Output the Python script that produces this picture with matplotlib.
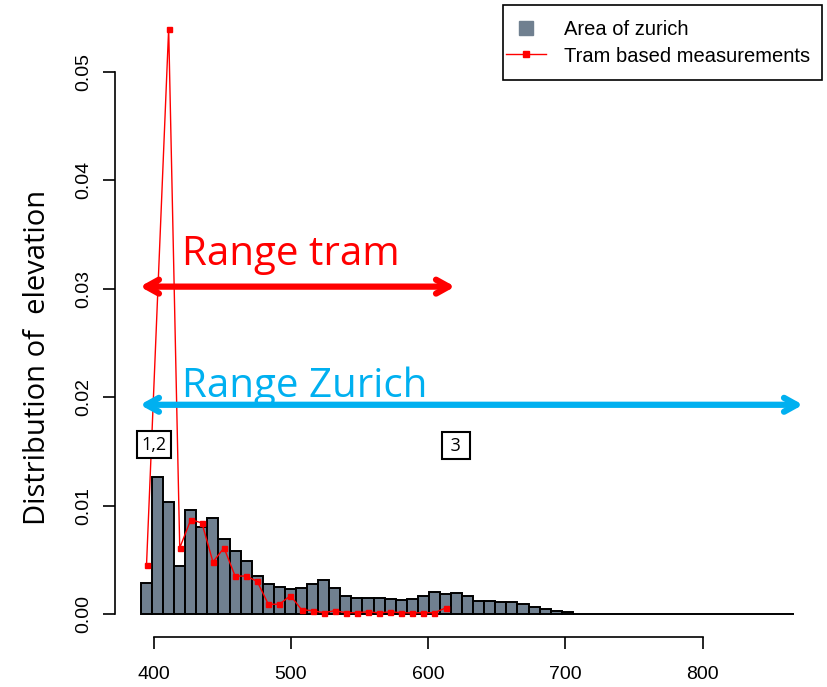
import numpy as np
import matplotlib
matplotlib.use("Agg")
import matplotlib.pyplot as plt
from matplotlib.lines import Line2D
from matplotlib.patches import Rectangle

# histogram of elevation over the whole area (density per bin)
bin_start = 390.8
bin_width = 8.07
area_density = [
    0.0029, 0.0126, 0.0103, 0.0044, 0.0096, 0.0080, 0.0089, 0.0069, 0.0058, 0.0049,
    0.0035, 0.0028, 0.0025, 0.0023, 0.0024, 0.0028, 0.0031, 0.0024, 0.0017, 0.0015,
    0.00145, 0.0015, 0.0014, 0.0013, 0.0014, 0.0017, 0.0020, 0.0018, 0.0019, 0.0017,
    0.0012, 0.0012, 0.0011, 0.00115, 0.0009, 0.0006, 0.0005, 0.0003, 0.0002, 0.00004,
    0.00004, 0.00004, 0.00004, 0.00004, 0.00004, 0.00004, 0.00004, 0.00004, 0.00004, 0.0,
    0.0, 0.0, 0.0, 0.0, 0.0, 0.0, 0.0, 0.0, 0.0,
]

# tram measurements (bin index -> density), bin 2 has no value
tram_bins = [0, 2, 3, 4, 5, 6, 7, 8, 9, 10, 11, 12, 13, 14, 15, 16, 17, 18, 19, 20,
             21, 22, 23, 24, 25, 26, 27]
tram_density = [0.0045, 0.0540, 0.0061, 0.0087, 0.0084, 0.0048, 0.0061, 0.0035, 0.0035,
                0.0030, 0.0009, 0.0009, 0.0017, 0.0004, 0.0003, 0.00012, 0.0003, 0.00012,
                0.00012, 0.0002, 0.0001, 0.0002, 0.00012, 0.0001, 0.00012, 0.00012, 0.00055]

x_ticks = [400, 500, 600, 700, 800]
y_ticks = [0.00, 0.01, 0.02, 0.03, 0.04, 0.05]

W, H = 827, 687
fig = plt.figure(figsize=(W / 100, H / 100), dpi=100)
L, R, B, T = 135, 800, 618, 20
ax = fig.add_axes([L / W, 1 - B / H, (R - L) / W, (B - T) / H])

px_per_x = (702.5 - 153.6) / 400
ax.set_xlim(400 + (L - 153.6) / px_per_x, 400 + (R - 153.6) / px_per_x)
ax.set_ylim(-(B - 614) / 10840, (614 - T) / 10840)

edges = bin_start + bin_width * np.arange(len(area_density))
ax.bar(edges, area_density, width=bin_width, align='edge', color='#708090',
       edgecolor='black', linewidth=1.4, zorder=2)

mids = edges + bin_width / 2
ax.plot(mids[tram_bins], tram_density, color='red', lw=1, marker='s', markersize=3.6,
        zorder=3, clip_on=False)

# R-like axes
for s in ['top', 'right']:
    ax.spines[s].set_visible(False)
ax.spines['left'].set_position(('outward', 14.4))
ax.spines['bottom'].set_position(('outward', 13.7))
ax.spines['left'].set_bounds(0, 0.05)
ax.spines['bottom'].set_bounds(400, 800)
for s in ['left', 'bottom']:
    ax.spines[s].set_linewidth(1.2)
ax.set_xticks(x_ticks)
ax.set_yticks(y_ticks)
ax.set_yticklabels([f"{v:.2f}" for v in y_ticks], rotation=90, va='center')
ax.tick_params(direction='out', length=8.6, width=1.2, labelsize=14)
ax.tick_params(axis='x', pad=12)
ax.tick_params(axis='y', pad=8)
for lab in ax.get_xticklabels() + ax.get_yticklabels():
    lab.set_family('Liberation Sans')
ax.set_ylabel('Distribution of  elevation', fontsize=21, family='Open Sans')
ax.yaxis.set_label_coords((52 - L) / (R - L), (B - 357.5) / (B - T))

# range arrows
ax.annotate('', xy=(390.1, 0.0302), xytext=(619.6, 0.0302),
            arrowprops=dict(arrowstyle='<->, head_length=0.9, head_width=0.5',
                            color='red', lw=4.5, shrinkA=0, shrinkB=0),
            annotation_clip=False)
ax.text(421, 0.0322, 'Range tram', color='red', fontsize=29, family='Open Sans',
        va='baseline', ha='left')
ax.annotate('', xy=(390.1, 0.0193), xytext=(873.2, 0.0193),
            arrowprops=dict(arrowstyle='<->, head_length=0.9, head_width=0.5',
                            color='#00B0F0', lw=4.5, shrinkA=0, shrinkB=0),
            annotation_clip=False)
ax.text(421, 0.0200, 'Range Zurich', color='#00B0F0', fontsize=29, family='Open Sans',
        va='baseline', ha='left')

box = dict(boxstyle='square,pad=0.25', facecolor='white', edgecolor='black', lw=1.5)
ax.text(400.6, 0.0156, '1,2', fontsize=13, family='Open Sans', ha='center', va='center', bbox=box)
ax.text(620.4, 0.0155, ' 3 ', fontsize=13, family='Open Sans', ha='center', va='center', bbox=box)

# legend: R-style box drawn separately, entries placed inside it
fig.add_artist(Rectangle((503 / W, 1 - 80 / H), 319 / W, 75 / H, transform=fig.transFigure,
                         facecolor='white', edgecolor='black', lw=1.2))
handles = [
    Line2D([], [], ls='none', marker='s', markersize=10, color='#708090'),
    Line2D([], [], color='red', lw=1, marker='s', markersize=4.5),
]
leg = fig.legend(handles, ['Area of zurich', 'Tram based measurements'],
                 loc='center left', bbox_to_anchor=(506 / W, 1 - 43 / H), borderaxespad=0,
                 prop={'family': 'Liberation Sans', 'size': 14.5}, frameon=False,
                 handlelength=2.0, borderpad=0, labelspacing=0.35, handletextpad=0.9)

fig.savefig('out.png', dpi=100)
